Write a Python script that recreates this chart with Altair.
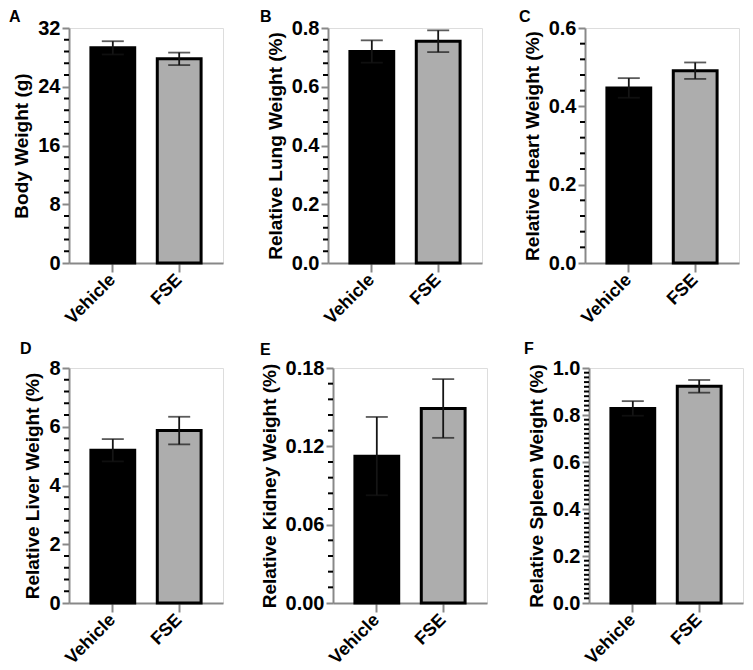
import altair as alt
import pandas as pd

# ---- data ----
groups = ["Vehicle", "FSE"]
panel_letters = ["A", "B", "C", "D", "E", "F"]
y_titles = [
    "Body Weight (g)",
    "Relative Lung Weight (%)",
    "Relative Heart Weight (%)",
    "Relative Liver Weight (%)",
    "Relative Kidney Weight (%)",
    "Relative Spleen Weight (%)",
]
means_vehicle = [29.3, 0.720, 0.447, 5.20, 0.1125, 0.828]
means_fse = [27.8, 0.755, 0.491, 5.87, 0.149, 0.922]
err_vehicle = [0.90, 0.038, 0.025, 0.38, 0.030, 0.031]
err_fse = [0.85, 0.037, 0.021, 0.47, 0.0225, 0.027]

# axis settings per panel
y_max = [32, 0.8, 0.6, 8, 0.18, 1.0]
y_major_step = [8, 0.2, 0.2, 2, 0.06, 0.2]
y_minor_per_major = [5, 5, 5, 5, 5, 10]
y_format = ["d", ".1f", ".1f", "d", ".2f", ".1f"]

# style: pixel offsets of each panel letter from the plot's top-left corner
letter_dx = [-60, -68, -66, -49, -73, -65]
letter_dy = [-19, -19, -19, -27, -26, -27]

FONT = "Liberation Sans, Arial, Helvetica, sans-serif"
PW, PH = 154, 235


def panel(i):
    df = pd.DataFrame({
        "group": groups,
        "mean": [means_vehicle[i], means_fse[i]],
        "err": [err_vehicle[i], err_fse[i]],
    })
    df["lo"] = df["mean"] - df["err"]
    df["hi"] = df["mean"] + df["err"]
    caps = pd.DataFrame({
        "group": groups + groups,
        "v": list(df["lo"]) + list(df["hi"]),
    })

    ymax = y_max[i]
    step = y_major_step[i]
    nmaj = int(round(ymax / step))
    major = [round(k * step, 6) for k in range(nmaj + 1)]
    per = y_minor_per_major[i]
    mstep = step / per
    minor = [round(k * mstep, 6) for k in range(int(round(ymax / mstep)) + 1) if k % per != 0]
    minor_df = pd.DataFrame({"m": minor})

    yscale = alt.Scale(domain=[0, ymax], nice=False, zero=True)
    yaxis = alt.Axis(values=major, format=y_format[i], title=y_titles[i],
                     tickSize=7, tickWidth=2, domainWidth=2,
                     labelFontSize=20, labelFontWeight="bold",
                     titleFontSize=19, titleFontWeight="bold",
                     titlePadding=6, labelPadding=2, grid=False)
    xenc = alt.X(
        "group:N", sort=groups,
        scale=alt.Scale(paddingInner=0.34, paddingOuter=0.33),
        axis=alt.Axis(title=None, labelAngle=-45, labelAlign="right", labelBaseline="middle",
                      labelFontSize=18, labelFontWeight="bold", tickSize=9, tickWidth=2,
                      domainWidth=2, labelPadding=5, grid=False),
    )

    bars = alt.Chart(df).mark_bar(stroke="black", strokeWidth=3).encode(
        x=xenc,
        y=alt.Y("mean:Q", scale=yscale, axis=yaxis),
        color=alt.Color("group:N", scale=alt.Scale(domain=groups, range=["#000000", "#adadad"]),
                        legend=None),
    )
    rules = alt.Chart(df).mark_rule(color="#151515", strokeWidth=1.8).encode(
        x=xenc,
        y=alt.Y("lo:Q", scale=yscale, axis=yaxis),
        y2="hi:Q",
    )
    capmarks = alt.Chart(caps).mark_tick(color="#151515", thickness=1.8, size=22).encode(
        x=xenc,
        y=alt.Y("v:Q", scale=yscale, axis=yaxis),
    )
    minors = alt.Chart(minor_df).mark_rule(color="black", strokeWidth=2).encode(
        y=alt.Y("m:Q", scale=yscale, axis=yaxis),
        x=alt.value(-5),
        x2=alt.value(0),
    )
    letter = alt.Chart(pd.DataFrame({"t": [panel_letters[i]]})).mark_text(
        font=FONT, fontSize=16, fontWeight="bold", align="left", baseline="top",
        color="black",
    ).encode(text="t:N", x=alt.value(letter_dx[i]), y=alt.value(letter_dy[i]))
    return alt.layer(bars, rules, capmarks, minors, letter).properties(width=PW, height=PH)


row1 = alt.hconcat(panel(0), panel(1), panel(2), spacing=35)
row2 = alt.hconcat(panel(3), panel(4), panel(5), spacing=35)
chart = alt.vconcat(row1, row2, spacing=12).properties(padding=0).configure_view(
    stroke="transparent", strokeWidth=0
).configure_axis(
    labelFont=FONT, titleFont=FONT, labelColor="black", titleColor="black",
    domainColor="black", tickColor="black",
).configure(background="white")

chart.save("out.html", embed_options={"renderer": "svg", "actions": False})
